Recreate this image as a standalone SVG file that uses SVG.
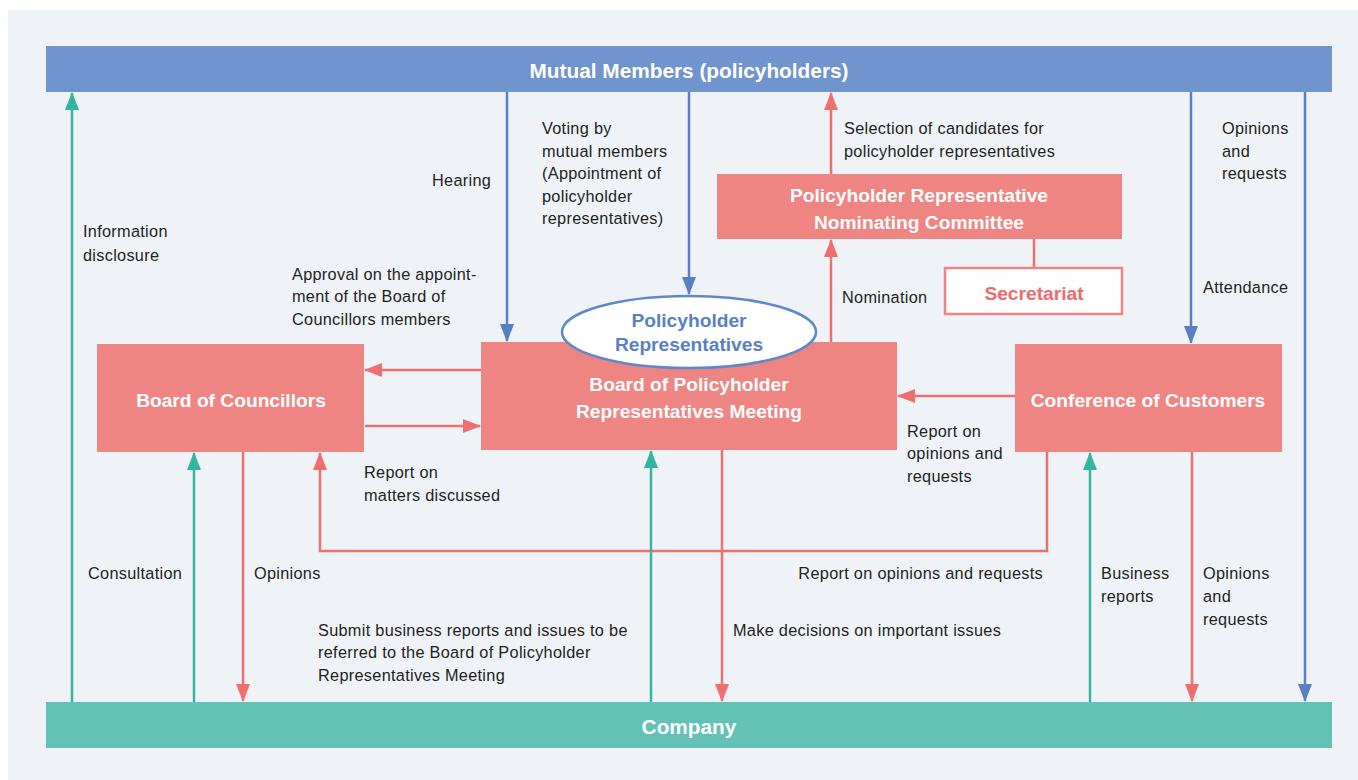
<svg xmlns="http://www.w3.org/2000/svg" width="1358" height="780" viewBox="0 0 1358 780">
<style>
.node{fill:#ef8583}
.nt{font-family:"Liberation Sans",Arial,sans-serif;font-size:19.2px;font-weight:bold;fill:#ffffff;text-anchor:middle}
.bt{font-size:20.8px}
.lb{font-family:"Liberation Sans",Arial,sans-serif;font-size:16.3px;letter-spacing:0.3px;fill:#231f20}
.pk{stroke:#ef6f6f;stroke-width:2.5;fill:none}
.gr{stroke:#33b5a0;stroke-width:2.5;fill:none}
.bl{stroke:#5a80c4;stroke-width:2.5;fill:none}
</style>
<defs>
<marker id="ap" viewBox="0 0 18 14" refX="17" refY="7" markerWidth="18" markerHeight="14" markerUnits="userSpaceOnUse" orient="auto"><path d="M0,0 L18,7 L0,14 Z" fill="#ef6f6f"/></marker>
<marker id="ag" viewBox="0 0 18 14" refX="17" refY="7" markerWidth="18" markerHeight="14" markerUnits="userSpaceOnUse" orient="auto"><path d="M0,0 L18,7 L0,14 Z" fill="#33b5a0"/></marker>
<marker id="ab" viewBox="0 0 18 14" refX="17" refY="7" markerWidth="18" markerHeight="14" markerUnits="userSpaceOnUse" orient="auto"><path d="M0,0 L18,7 L0,14 Z" fill="#5a80c4"/></marker>
</defs>
<rect x="0" y="0" width="1358" height="780" fill="#ffffff"/>
<rect x="8" y="10" width="1350" height="770" fill="#eff3f7"/>

<g id="connectors">
<line class="gr" x1="72" y1="702" x2="72" y2="93" marker-end="url(#ag)"/>
<line class="bl" x1="507" y1="92" x2="507" y2="341" marker-end="url(#ab)"/>
<line class="bl" x1="689" y1="92" x2="689" y2="294" marker-end="url(#ab)"/>
<line class="pk" x1="831" y1="174" x2="831" y2="93" marker-end="url(#ap)"/>
<line class="pk" x1="831" y1="342" x2="831" y2="240" marker-end="url(#ap)"/>
<line class="pk" x1="1034" y1="239" x2="1034" y2="267"/>
<line class="bl" x1="1191" y1="92" x2="1191" y2="343" marker-end="url(#ab)"/>
<line class="bl" x1="1305" y1="92" x2="1305" y2="701" marker-end="url(#ab)"/>
<line class="pk" x1="481" y1="370" x2="365" y2="370" marker-end="url(#ap)"/>
<line class="pk" x1="365" y1="426" x2="480" y2="426" marker-end="url(#ap)"/>
<line class="pk" x1="1015" y1="396" x2="898" y2="396" marker-end="url(#ap)"/>
<line class="gr" x1="194" y1="702" x2="194" y2="453" marker-end="url(#ag)"/>
<line class="pk" x1="243" y1="452" x2="243" y2="701" marker-end="url(#ap)"/>
<polyline class="pk" points="1047,452 1047,551 320,551 320,453" marker-end="url(#ap)"/>
<line class="gr" x1="651" y1="702" x2="651" y2="451" marker-end="url(#ag)"/>
<line class="pk" x1="722" y1="450" x2="722" y2="701" marker-end="url(#ap)"/>
<line class="gr" x1="1090" y1="702" x2="1090" y2="453" marker-end="url(#ag)"/>
<line class="pk" x1="1192" y1="452" x2="1192" y2="701" marker-end="url(#ap)"/>
</g>

<g id="mutual-members">
<rect x="46" y="46" width="1286" height="46" fill="#7094cd"/>
<text class="nt bt" x="689" y="78">Mutual Members (policyholders)</text>
</g>
<g id="company">
<rect x="46" y="702" width="1286" height="46" fill="#64c1b5"/>
<text class="nt bt" x="689" y="734">Company</text>
</g>
<g id="nominating-committee">
<rect class="node" x="717" y="174" width="405" height="65"/>
<text class="nt" x="919" y="202">Policyholder Representative</text>
<text class="nt" x="919" y="229">Nominating Committee</text>
</g>
<g id="secretariat">
<rect x="945" y="268" width="177" height="46" fill="#ffffff" stroke="#ef8583" stroke-width="2.5"/>
<text class="nt" x="1034" y="300" style="fill:#ef6b6b">Secretariat</text>
</g>
<g id="board-of-councillors">
<rect class="node" x="97" y="344" width="267" height="108"/>
<text class="nt" x="231" y="407">Board of Councillors</text>
</g>
<g id="board-meeting">
<rect class="node" x="481" y="342" width="416" height="108"/>
<text class="nt" x="689" y="391">Board of Policyholder</text>
<text class="nt" x="689" y="418">Representatives Meeting</text>
</g>
<g id="policyholder-representatives">
<ellipse cx="689" cy="332" rx="127" ry="36" fill="#ffffff" stroke="#6088c8" stroke-width="2.5"/>
<text class="nt" x="689" y="327" style="fill:#5a80c4">Policyholder</text>
<text class="nt" x="689" y="351" style="fill:#5a80c4">Representatives</text>
</g>
<g id="conference-of-customers">
<rect class="node" x="1015" y="344" width="267" height="108"/>
<text class="nt" x="1148" y="407">Conference of Customers</text>
</g>

<g id="labels">
<text class="lb" x="432" y="186">Hearing</text>
<text class="lb"><tspan x="542" y="134">Voting by</tspan><tspan x="542" y="157">mutual members</tspan><tspan x="542" y="179">(Appointment of</tspan><tspan x="542" y="202">policyholder</tspan><tspan x="542" y="224">representatives)</tspan></text>
<text class="lb"><tspan x="844" y="134">Selection of candidates for</tspan><tspan x="844" y="157">policyholder representatives</tspan></text>
<text class="lb"><tspan x="1222" y="134">Opinions</tspan><tspan x="1222" y="157">and</tspan><tspan x="1222" y="179">requests</tspan></text>
<text class="lb"><tspan x="83" y="237">Information</tspan><tspan x="83" y="261">disclosure</tspan></text>
<text class="lb"><tspan x="292" y="280">Approval on the appoint-</tspan><tspan x="292" y="302">ment of the Board of</tspan><tspan x="292" y="325">Councillors members</tspan></text>
<text class="lb" x="842" y="303">Nomination</text>
<text class="lb" x="1203" y="293">Attendance</text>
<text class="lb"><tspan x="364" y="478">Report on</tspan><tspan x="364" y="501">matters discussed</tspan></text>
<text class="lb"><tspan x="907" y="437">Report on</tspan><tspan x="907" y="459">opinions and</tspan><tspan x="907" y="482">requests</tspan></text>
<text class="lb" x="88" y="579">Consultation</text>
<text class="lb" x="254" y="579">Opinions</text>
<text class="lb" x="1043" y="579" text-anchor="end">Report on opinions and requests</text>
<text class="lb"><tspan x="1101" y="579">Business</tspan><tspan x="1101" y="602">reports</tspan></text>
<text class="lb"><tspan x="1203" y="579">Opinions</tspan><tspan x="1203" y="602">and</tspan><tspan x="1203" y="625">requests</tspan></text>
<text class="lb"><tspan x="318" y="636">Submit business reports and issues to be</tspan><tspan x="318" y="658">referred to the Board of Policyholder</tspan><tspan x="318" y="681">Representatives Meeting</tspan></text>
<text class="lb" x="733" y="636">Make decisions on important issues</text>
</g>
</svg>
